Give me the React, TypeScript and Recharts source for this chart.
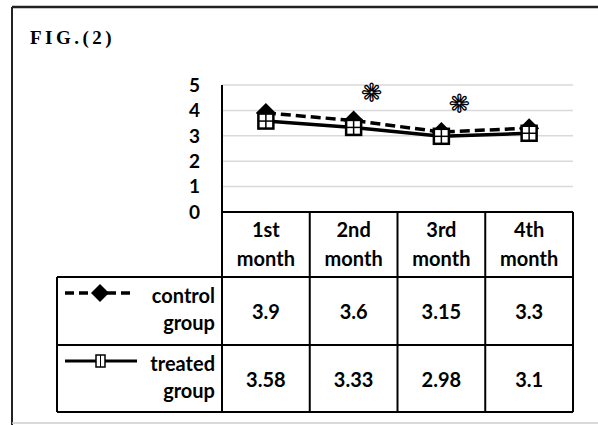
import { CartesianGrid, Line, LineChart, XAxis, YAxis } from "recharts"

const months = ["1st month", "2nd month", "3rd month", "4th month"]
const controlGroup = [3.9, 3.6, 3.15, 3.3]
const treatedGroup = [3.58, 3.33, 2.98, 3.1]
const significant = [false, true, true, false]
const yTicks = [0, 1, 2, 3, 4, 5]
const seriesNames = ["control group", "treated group"]

const W = 598
const H = 425
const PLOT_LEFT = 222
const PLOT_RIGHT = 573
const PLOT_TOP = 85
const PLOT_BOTTOM = 212
const HEADER_BOTTOM = 277
const ROW1_BOTTOM = 345
const TABLE_BOTTOM = 412
const TABLE_LEFT = 57

const FONT = "Lato, 'Open Sans', sans-serif"

const data = months.map((m, i) => ({
  month: m,
  control: controlGroup[i],
  treated: treatedGroup[i],
}))

const Diamond = ({ cx, cy, r }: { cx: number; cy: number; r: number }) => (
  <path d={`M${cx},${cy - r}L${cx + r},${cy}L${cx},${cy + r}L${cx - r},${cy}Z`} fill="#000" />
)

const WindowBox = ({ cx, cy, w, h }: { cx: number; cy: number; w: number; h: number }) => (
  <g>
    <rect x={cx - w / 2} y={cy - h / 2} width={w} height={h} fill="#fff" stroke="#000" strokeWidth={2.5} />
    <line x1={cx} y1={cy - h / 2} x2={cx} y2={cy + h / 2} stroke="#000" strokeWidth={1.5} />
    <line x1={cx - w / 2} y1={cy} x2={cx + w / 2} y2={cy} stroke="#000" strokeWidth={1.5} />
  </g>
)

function renderControlDot(props: any) {
  const { cx, cy, index } = props
  return <Diamond key={`c-${index}`} cx={cx} cy={cy} r={10} />
}

function renderTreatedDot(props: any) {
  const { cx, cy, index } = props
  return <WindowBox key={`t-${index}`} cx={cx} cy={cy} w={15} h={15} />
}

// asterisk drawn above the significant months
function renderStar(props: any) {
  const { x, y, index } = props
  if (!significant[index]) return null
  return (
    <text
      key={`s-${index}`}
      x={x + 18}
      y={y - 28}
      textAnchor="middle"
      dominantBaseline="central"
      fontFamily="'DejaVu Sans'"
      fontSize={24}
      fill="#fff"
      stroke="#000"
      strokeWidth={1.3}
    >
      ❋
    </text>
  )
}

function DataTable() {
  const colW = (PLOT_RIGHT - PLOT_LEFT) / months.length
  const colX = months.map((_, i) => PLOT_LEFT + colW * i)
  const rows = [controlGroup, treatedGroup]
  const rowTops = [HEADER_BOTTOM, ROW1_BOTTOM]
  const rowBottoms = [ROW1_BOTTOM, TABLE_BOTTOM]
  const line = { stroke: "#000", strokeWidth: 2 }
  return (
    <svg width={W} height={H} style={{ position: "absolute", left: 0, top: 0, pointerEvents: "none" }}>
      {/* outer frame */}
      <line x1={12} y1={7} x2={W} y2={7} stroke="#222" strokeWidth={2.5} />
      <line x1={12} y1={7} x2={12} y2={H} stroke="#222" strokeWidth={2} />
      <line x1={12} y1={423} x2={W} y2={423} stroke="#ccc" strokeWidth={1.5} />
      <text x={30} y={44} fontFamily="'Liberation Serif', serif" fontWeight={700} fontSize={19} letterSpacing={3.5}>
        FIG.(2)
      </text>

      {/* grid of the table */}
      <line x1={PLOT_LEFT} y1={PLOT_BOTTOM} x2={PLOT_RIGHT} y2={PLOT_BOTTOM} {...line} />
      {[HEADER_BOTTOM, ROW1_BOTTOM, TABLE_BOTTOM].map((y) => (
        <line key={y} x1={TABLE_LEFT} y1={y} x2={PLOT_RIGHT} y2={y} {...line} />
      ))}
      <line x1={TABLE_LEFT} y1={HEADER_BOTTOM} x2={TABLE_LEFT} y2={TABLE_BOTTOM} {...line} />
      {[...colX, PLOT_RIGHT].map((x) => (
        <line key={x} x1={x} y1={PLOT_BOTTOM} x2={x} y2={TABLE_BOTTOM} {...line} />
      ))}

      {/* header */}
      {months.map((m, i) => {
        const [a, b] = m.split(" ")
        const cx = colX[i] + colW / 2
        return (
          <text key={m} x={cx} textAnchor="middle" fontFamily={FONT} fontWeight={700} fontSize={20}>
            <tspan x={cx} y={PLOT_BOTTOM + 25}>{a}</tspan>
            <tspan x={cx} y={PLOT_BOTTOM + 54}>{b}</tspan>
          </text>
        )
      })}

      {/* series rows */}
      {rows.map((vals, r) => {
        const top = rowTops[r]
        const mid = (top + rowBottoms[r]) / 2
        const [a, b] = seriesNames[r].split(" ")
        const ly = top + 16
        return (
          <g key={r}>
            {r === 0 ? (
              <g>
                <line x1={65} y1={ly} x2={135} y2={ly} stroke="#000" strokeWidth={3.5} strokeDasharray="9 5" />
                <Diamond cx={100} cy={ly} r={9} />
              </g>
            ) : (
              <g>
                <line x1={65} y1={ly} x2={137} y2={ly} stroke="#000" strokeWidth={3} />
                <rect x={96} y={ly - 6} width={9} height={12} fill="#fff" stroke="#000" strokeWidth={1.5} />
                <line x1={100.5} y1={ly - 6} x2={100.5} y2={ly + 6} stroke="#000" strokeWidth={1} />
              </g>
            )}
            <text textAnchor="end" fontFamily={FONT} fontWeight={700} fontSize={20}>
              <tspan x={215} y={top + 26}>{a}</tspan>
              <tspan x={215} y={top + 53}>{b}</tspan>
            </text>
            {vals.map((v, i) => (
              <text
                key={i}
                x={colX[i] + colW / 2}
                y={mid}
                textAnchor="middle"
                dominantBaseline="central"
                fontFamily={FONT}
                fontWeight={700}
                fontSize={20}
              >
                {v}
              </text>
            ))}
          </g>
        )
      })}
    </svg>
  )
}

export default function App() {
  return (
    <div style={{ position: "absolute", left: 0, top: 0, width: W, height: H, background: "#fff" }}>
      <LineChart
        width={W}
        height={H}
        data={data}
        margin={{ top: PLOT_TOP, right: W - PLOT_RIGHT, bottom: H - PLOT_BOTTOM, left: PLOT_LEFT - 30 }}
      >
        <CartesianGrid vertical={false} stroke="#d9d9d9" strokeWidth={1.5} />
        <XAxis dataKey="month" scale="band" hide />
        <YAxis
          width={30}
          domain={[0, 5]}
          ticks={yTicks}
          interval={0}
          tickLine={false}
          tickSize={0}
          tickMargin={22}
          axisLine={{ stroke: "#000", strokeWidth: 2 }}
          tick={{ fill: "#000", fontFamily: FONT, fontWeight: 700, fontSize: 19 }}
        />
        <Line
          dataKey="control"
          stroke="#000"
          strokeWidth={3.5}
          strokeDasharray="10 5"
          dot={renderControlDot}
          label={renderStar}
          isAnimationActive={false}
        />
        <Line
          dataKey="treated"
          stroke="#000"
          strokeWidth={3.5}
          dot={renderTreatedDot}
          isAnimationActive={false}
        />
      </LineChart>
      <DataTable />
    </div>
  )
}
